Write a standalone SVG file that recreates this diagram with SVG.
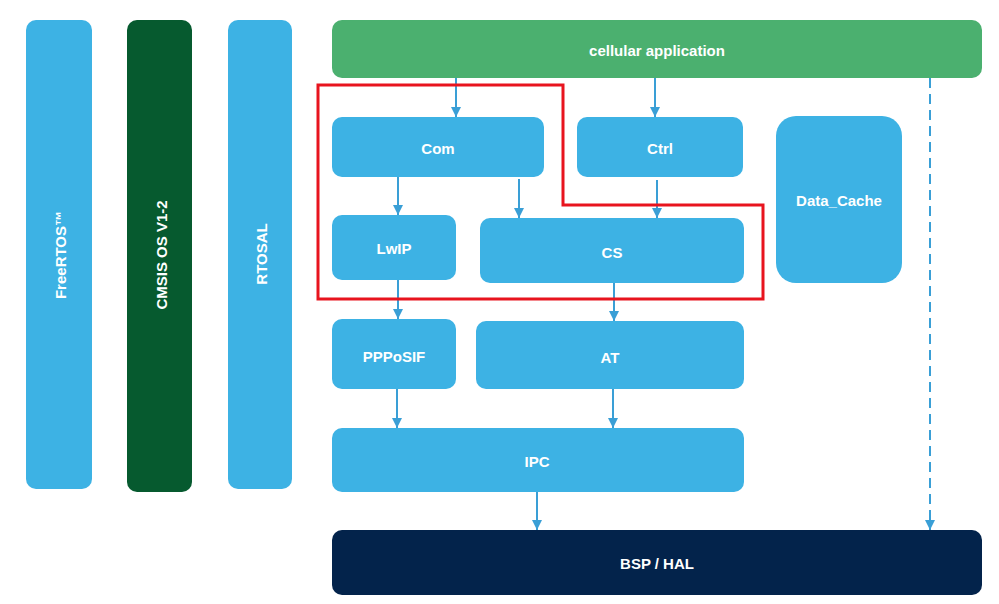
<svg xmlns="http://www.w3.org/2000/svg" width="999" height="604" viewBox="0 0 999 604">
<defs>
<marker id="ah" viewBox="0 0 10 10" refX="10" refY="5" markerWidth="10" markerHeight="10" markerUnits="userSpaceOnUse" orient="auto">
<path d="M0,0 L10,5 L0,10 z" fill="#3A9FD6"/>
</marker>
<style>
.b{fill:#3DB2E4}
.t{font-family:"Liberation Sans",Arial,sans-serif;font-weight:bold;font-size:15px;fill:#fff;text-anchor:middle;dominant-baseline:central}
.c{stroke:#3A9FD6;stroke-width:2;fill:none;marker-end:url(#ah)}
</style>
</defs>
<rect width="999" height="604" fill="#fff"/>
<g id="freertos"><rect class="b" x="26" y="20" width="66" height="469" rx="10"/><text class="t" transform="translate(60,255) rotate(-90)">FreeRTOS™</text></g>
<g id="cmsis"><rect x="127" y="20" width="65" height="472" rx="10" fill="#065A2F"/><text class="t" transform="translate(161,255) rotate(-90)">CMSIS OS V1-2</text></g>
<g id="rtosal"><rect class="b" x="228" y="20" width="64" height="469" rx="10"/><text class="t" transform="translate(261,254) rotate(-90)">RTOSAL</text></g>
<g id="cellular"><rect x="332" y="20" width="650" height="58" rx="10" fill="#4BB06F"/><text class="t" x="657" y="50">cellular application</text></g>
<g id="com"><rect class="b" x="332" y="117" width="212" height="60" rx="10"/><text class="t" x="438" y="148">Com</text></g>
<g id="ctrl"><rect class="b" x="577" y="117" width="166" height="60" rx="10"/><text class="t" x="660" y="148">Ctrl</text></g>
<g id="datacache"><rect class="b" x="776" y="116" width="126" height="167" rx="20"/><text class="t" x="839" y="200">Data_Cache</text></g>
<g id="lwip"><rect class="b" x="332" y="215" width="124" height="65" rx="10"/><text class="t" x="394" y="248">LwIP</text></g>
<g id="cs"><rect class="b" x="480" y="218" width="264" height="65" rx="10"/><text class="t" x="612" y="252">CS</text></g>
<g id="pppos"><rect class="b" x="332" y="319" width="124" height="70" rx="10"/><text class="t" x="394" y="356">PPPoSIF</text></g>
<g id="at"><rect class="b" x="476" y="321" width="268" height="68" rx="10"/><text class="t" x="610" y="357">AT</text></g>
<g id="ipc"><rect class="b" x="332" y="428" width="412" height="64" rx="10"/><text class="t" x="537" y="461">IPC</text></g>
<g id="bsp"><rect x="332" y="530" width="650" height="65" rx="10" fill="#03234B"/><text class="t" x="657" y="563">BSP / HAL</text></g>
<g id="connectors">
<line class="c" x1="456" y1="78" x2="456" y2="117"/>
<line class="c" x1="655" y1="78" x2="655" y2="117"/>
<line class="c" x1="398" y1="177" x2="398" y2="215"/>
<line class="c" x1="519" y1="179" x2="519" y2="218"/>
<line class="c" x1="657" y1="180" x2="657" y2="218"/>
<line class="c" x1="398" y1="280" x2="398" y2="319"/>
<line class="c" x1="614" y1="283" x2="614" y2="321"/>
<line class="c" x1="397" y1="389" x2="397" y2="428"/>
<line class="c" x1="613" y1="389" x2="613" y2="428"/>
<line class="c" x1="537" y1="492" x2="537" y2="530"/>
<line class="c" x1="930" y1="78" x2="930" y2="530" stroke-dasharray="10,6"/>
</g>
<g id="highlight"><path d="M318,85 L563,85 L563,205 L763,205 L763,299 L318,299 Z" fill="none" stroke="#E8141E" stroke-width="3"/></g>
</svg>
